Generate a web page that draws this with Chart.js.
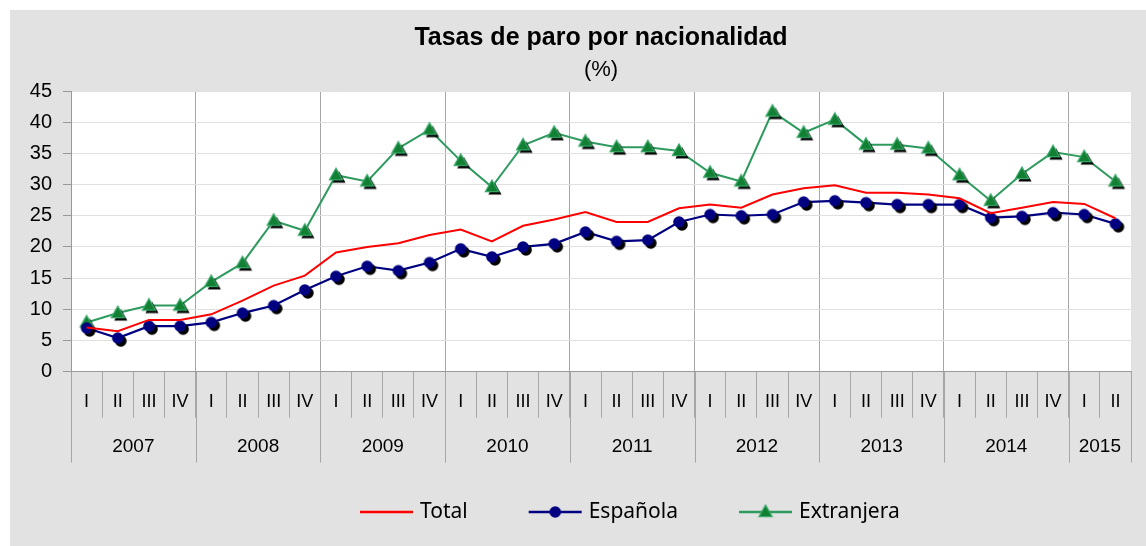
<!DOCTYPE html>
<html lang="es">
<head>
<meta charset="UTF-8">
<title>Tasas de paro por nacionalidad</title>
<script src="https://cdn.jsdelivr.net/npm/chart.js"></script>
<style>
  body { margin: 0; background: #fff; }
  .box {
    position: absolute; left: 10px; top: 10px;
    width: 1136px; height: 536px;
    background: #e2e2e2;
  }
</style>
</head>
<body>
<div class="box"><canvas id="myChart"></canvas></div>
<script>
  // quarters and years on the two-level x axis
  var quarters = ['I','II','III','IV','I','II','III','IV','I','II','III','IV','I','II','III','IV',
    'I','II','III','IV','I','II','III','IV','I','II','III','IV','I','II','III','IV','I','II'];
  var years = ['2007','2008','2009','2010','2011','2012','2013','2014','2015'];
  var quartersPerYear = [4, 4, 4, 4, 4, 4, 4, 4, 2];

  var total = [7.1, 6.5, 8.3, 8.3, 9.2, 11.4, 13.8, 15.4, 19.1, 20.0, 20.6, 21.9,
    22.8, 20.9, 23.4, 24.4, 25.6, 24.0, 24.0, 26.2, 26.8, 26.3, 28.4, 29.4,
    29.9, 28.7, 28.7, 28.4, 27.8, 25.4, 26.3, 27.2, 26.9, 24.6];
  var espanola = [7.0, 5.4, 7.3, 7.3, 7.9, 9.4, 10.6, 13.1, 15.3, 16.9, 16.2, 17.5,
    19.7, 18.4, 20.0, 20.5, 22.4, 20.9, 21.1, 24.0, 25.2, 25.0, 25.2, 27.2,
    27.4, 27.1, 26.8, 26.8, 26.8, 24.7, 24.9, 25.5, 25.2, 23.7];
  var extranjera = [7.9, 9.4, 10.6, 10.6, 14.4, 17.4, 24.2, 22.6, 31.5, 30.5, 35.8, 38.8,
    33.8, 29.6, 36.3, 38.3, 36.9, 36.0, 36.0, 35.4, 31.9, 30.5, 41.7, 38.3,
    40.4, 36.4, 36.4, 35.8, 31.5, 27.4, 31.7, 35.2, 34.4, 30.5];

  var seriesNames = ['Total', 'Española', 'Extranjera'];

  // marker images: coloured shape with a black shadow down-right
  function drawShape(g, kind, cx, cy, fill, stroke) {
    g.beginPath();
    if (kind === 'circle') {
      g.arc(cx, cy, 5.8, 0, Math.PI * 2);
    } else {
      g.moveTo(cx, cy - 7);
      g.lineTo(cx + 6.6, cy + 4.6);
      g.lineTo(cx - 6.6, cy + 4.6);
      g.closePath();
    }
    g.fillStyle = fill;
    g.fill();
    if (stroke) {
      g.lineWidth = 1.2;
      g.strokeStyle = stroke;
      g.stroke();
    }
  }

  function makeMarker(kind, fill, stroke, shadow) {
    var c = document.createElement('canvas');
    c.width = 30;
    c.height = 30;
    var g = c.getContext('2d');
    if (shadow) drawShape(g, kind, 18, 18, '#000', null);
    drawShape(g, kind, 15, 15, fill, stroke);
    return c;
  }

  var circleMark = makeMarker('circle', '#000080', null, true);
  var triMark = makeMarker('tri', '#118032', '#3aa86a', true);
  var circleLegend = makeMarker('circle', '#000080', null, false);
  var triLegend = makeMarker('tri', '#118032', '#3aa86a', false);

  var yearAxisPlugin = {
    id: 'yearAxis',
    afterDraw: function (chart) {
      var ctx = chart.ctx;
      var x = chart.scales.x;
      var bottom = chart.chartArea.bottom;
      ctx.save();
      ctx.strokeStyle = '#a6a6a6';
      ctx.lineWidth = 1;
      ctx.fillStyle = '#000';
      ctx.font = '19px "Liberation Sans", Arial, sans-serif';
      ctx.textAlign = 'center';
      ctx.textBaseline = 'middle';
      var start = 0;
      for (var i = 0; i <= years.length; i++) {
        var px = Math.round(x.getPixelForValue(start - 0.5)) + 0.5;
        ctx.beginPath();
        ctx.moveTo(px, bottom);
        ctx.lineTo(px, bottom + 91);
        ctx.stroke();
        if (i === years.length) break;
        var mid = x.getPixelForValue(start + (quartersPerYear[i] - 1) / 2);
        ctx.fillText(years[i], mid, bottom + 75.5);
        start += quartersPerYear[i];
      }
      ctx.restore();
    }
  };

  var legendPlugin = {
    id: 'customLegend',
    afterDraw: function (chart) {
      var ctx = chart.ctx;
      var marks = [null, circleLegend, triLegend];
      var y = 502;
      var xPos = 350;
      ctx.save();
      ctx.font = '21px "Noto Sans", sans-serif';
      ctx.textBaseline = 'middle';
      ctx.fillStyle = '#000';
      chart.data.datasets.forEach(function (ds, i) {
        ctx.strokeStyle = ds.borderColor;
        ctx.lineWidth = 2.5;
        ctx.beginPath();
        ctx.moveTo(xPos, y);
        ctx.lineTo(xPos + 53, y);
        ctx.stroke();
        if (marks[i]) {
          ctx.drawImage(marks[i], xPos + 26.5 - 15, y - 15);
        }
        ctx.fillText(ds.label, xPos + 60, y);
        xPos += 60 + ctx.measureText(ds.label).width + 61;
      });
      ctx.restore();
    }
  };

  var ctx = document.getElementById('myChart').getContext('2d');

  var myChart = new Chart(ctx, {
    type: 'line',
    data: {
      labels: quarters,
      datasets: [{
        label: seriesNames[0],
        data: total,
        borderColor: '#ff0000',
        borderWidth: 2,
        pointRadius: 0,
        tension: 0
      }, {
        label: seriesNames[1],
        data: espanola,
        borderColor: '#000080',
        borderWidth: 2.2,
        pointStyle: circleMark,
        pointRadius: 6,
        tension: 0
      }, {
        label: seriesNames[2],
        data: extranjera,
        borderColor: '#2e9a5e',
        borderWidth: 2,
        pointStyle: triMark,
        pointRadius: 6,
        tension: 0
      }]
    },
    options: {
      responsive: true,
      maintainAspectRatio: false,
      animation: false,
      layout: {
        padding: { left: 0, right: 15, top: 0, bottom: 0 }
      },
      plugins: {
        legend: { display: false },
        tooltip: { enabled: false },
        title: {
          display: true,
          text: 'Tasas de paro por nacionalidad',
          fullSize: false,
          color: '#000',
          font: { family: '"Liberation Sans", Arial, sans-serif', size: 25, weight: 'bold' },
          padding: { top: 13, bottom: 0 }
        },
        subtitle: {
          display: true,
          text: '(%)',
          fullSize: false,
          color: '#000',
          font: { family: '"Liberation Sans", Arial, sans-serif', size: 22 },
          padding: { top: 3.8, bottom: 7.8 }
        }
      },
      scales: {
        x: {
          type: 'category',
          offset: true,
          border: { color: '#999999' },
          grid: {
            offset: true,
            tickLength: 46,
            tickColor: '#a6a6a6',
            color: function (c) {
              return c.index % 4 === 0 ? '#a6a6a6' : 'rgba(0,0,0,0)';
            }
          },
          ticks: {
            autoSkip: false,
            maxRotation: 0,
            padding: -26.5,
            color: '#000',
            font: { family: '"Liberation Sans", Arial, sans-serif', size: 18 }
          },
          afterFit: function (scale) { scale.height = 174.3; }
        },
        y: {
          min: 0,
          max: 45,
          border: { color: '#999999' },
          grid: {
            color: '#e0e0e0',
            tickColor: '#999999',
            tickLength: 8
          },
          ticks: {
            stepSize: 5,
            padding: 11,
            color: '#000',
            font: { family: '"Liberation Sans", Arial, sans-serif', size: 20 }
          },
          afterFit: function (scale) { scale.width = 61; }
        }
      }
    },
    plugins: [
      {
        id: 'plotBg',
        beforeDraw: function (chart) {
          var a = chart.chartArea;
          chart.ctx.save();
          chart.ctx.fillStyle = '#ffffff';
          chart.ctx.fillRect(a.left, a.top, a.right - a.left, a.bottom - a.top);
          chart.ctx.restore();
        }
      },
      yearAxisPlugin,
      legendPlugin
    ]
  });
</script>
</body>
</html>
